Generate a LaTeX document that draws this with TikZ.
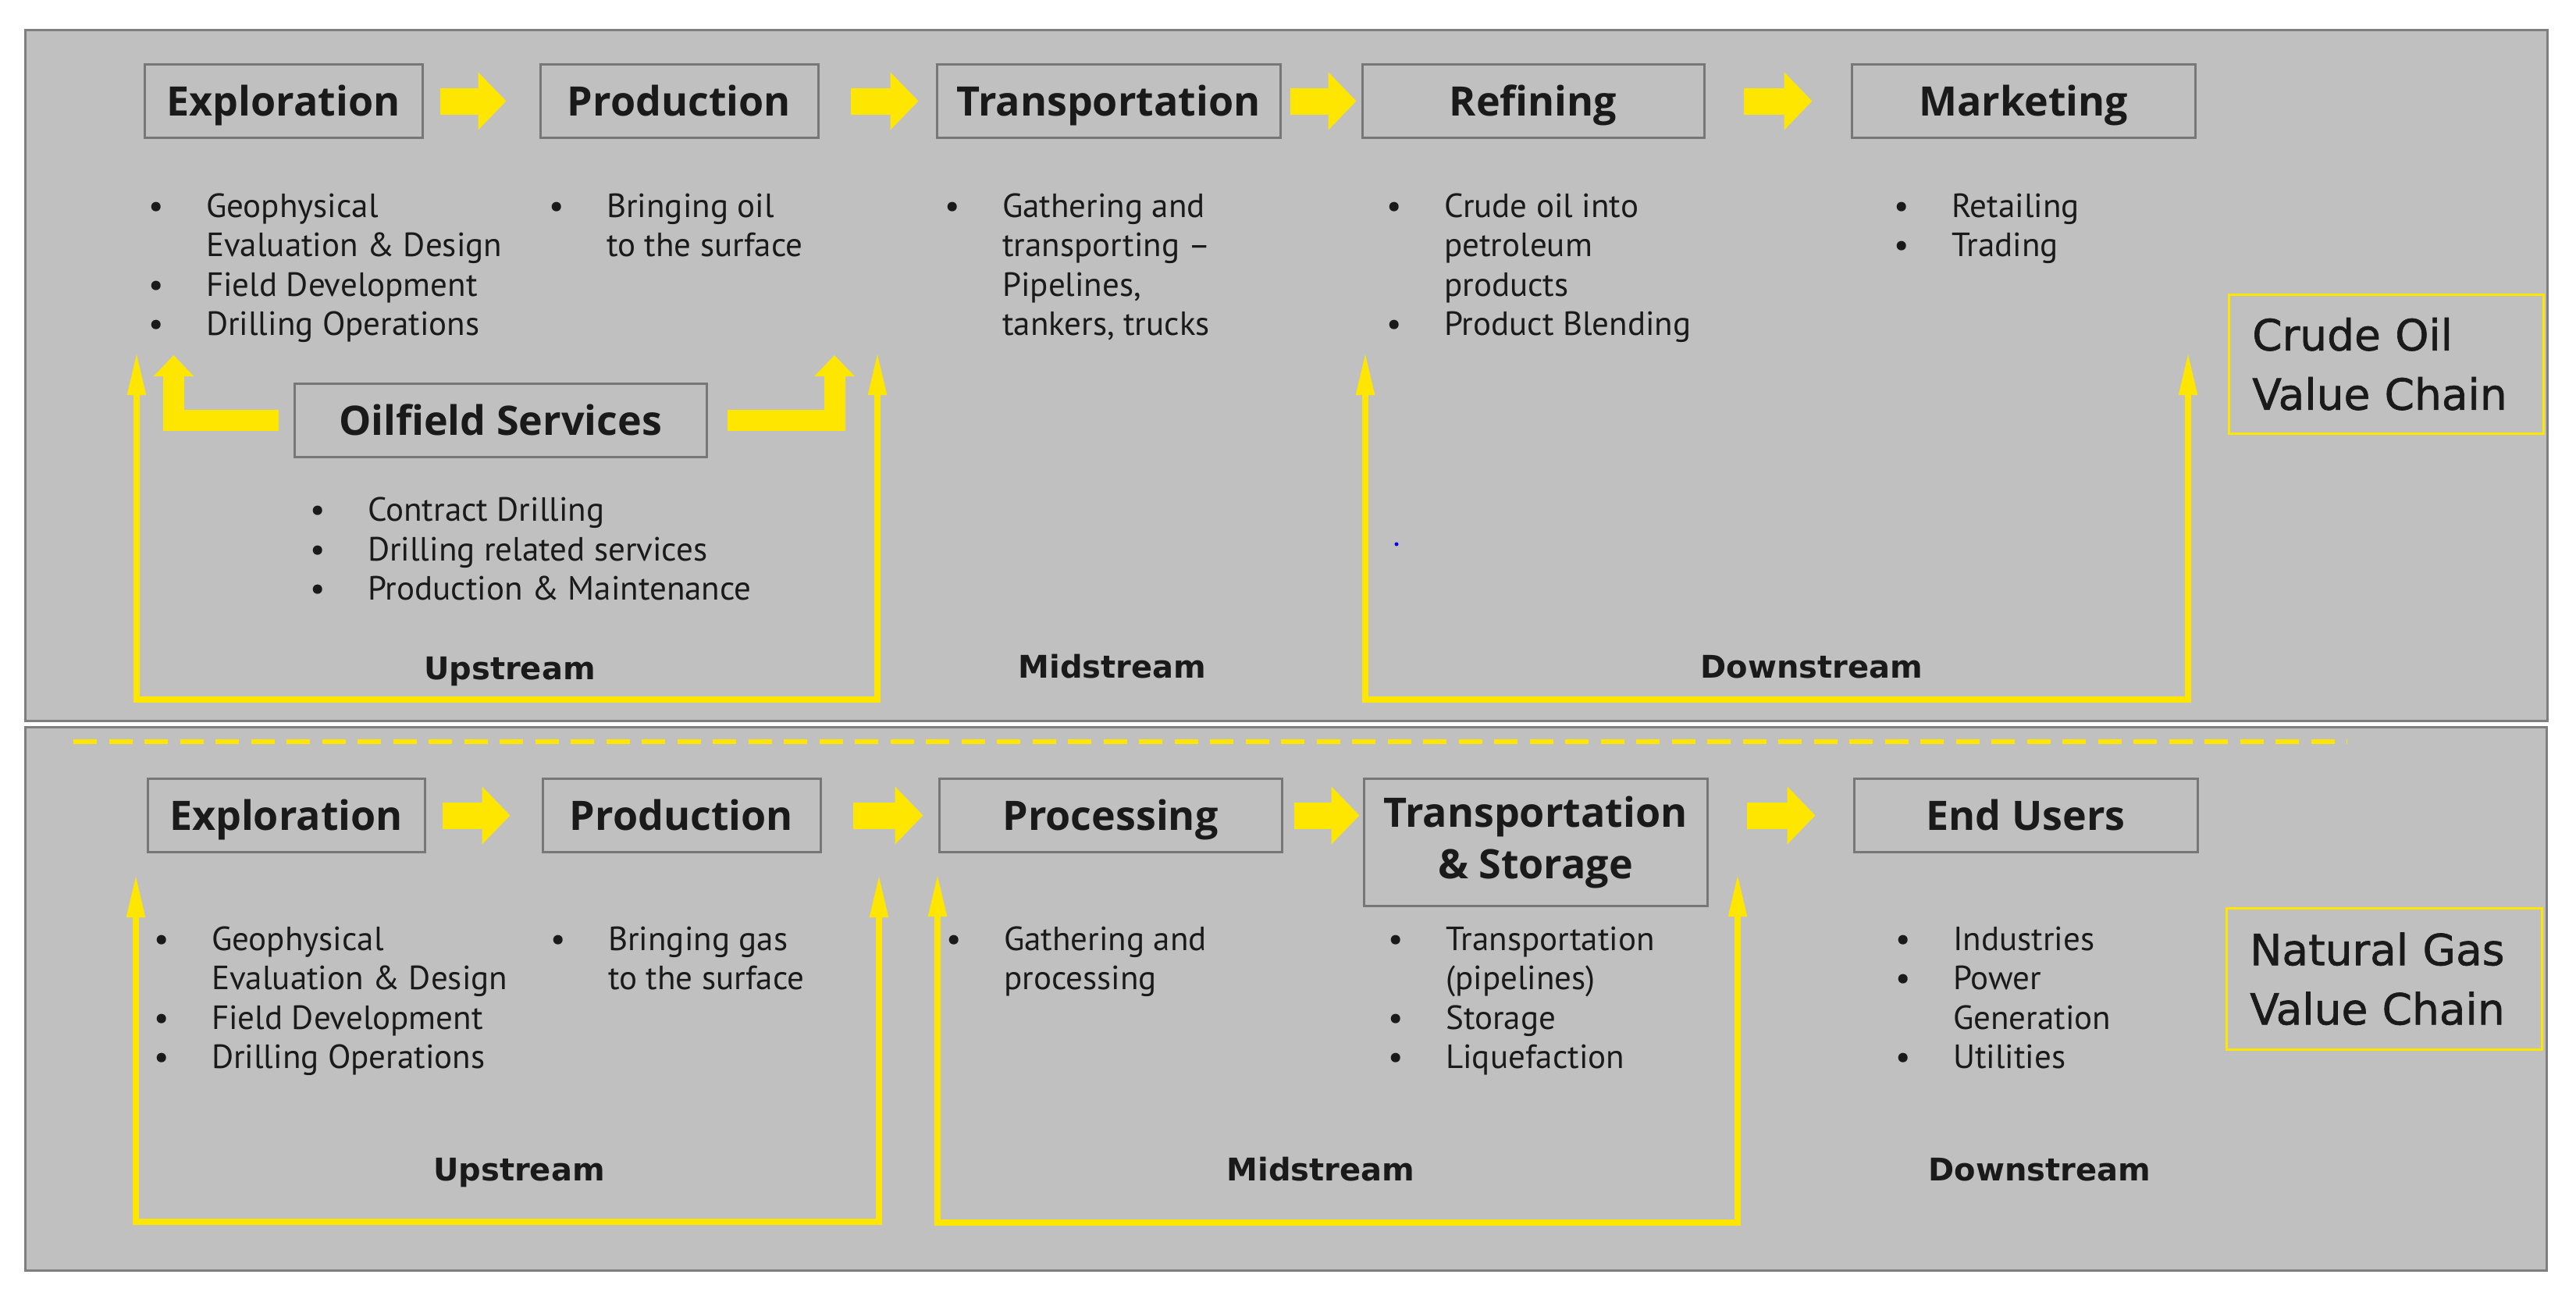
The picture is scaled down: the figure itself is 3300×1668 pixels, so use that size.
\documentclass[tikz,border=0pt]{standalone}
\usepackage{fontspec}
\setmainfont{PT Sans}
\newfontfamily\chainfont{DejaVu Sans}
\newfontfamily\valuefont[FakeBold=1.2]{DejaVu Sans}
\newfontfamily\stagefont{Open Sans}
\usetikzlibrary{arrows.meta}
\definecolor{Panel}{HTML}{C0C0C0}
\definecolor{Frame}{HTML}{7F7F7F}
\definecolor{BoxLine}{HTML}{777777}
\definecolor{EYellow}{HTML}{FFE600}
\definecolor{Ink}{HTML}{1A1A1A}
\newcommand{\titlefont}{\stagefont\fontsize{52}{66}\selectfont\bfseries}
\newcommand{\listfont}{\fontsize{43}{50.5}\selectfont}
\newcommand{\bulletlist}[1]{\begin{tabular}[t]{@{}p{74pt}@{}l@{}}#1\end{tabular}}

\begin{document}
\begin{tikzpicture}[x=1pt,y=-1pt,every node/.style={text=Ink},
  stagebase/.style={draw=BoxLine,line width=3pt,fill=Panel,inner sep=0pt,font=\titlefont},
  stagebox/.style={stagebase,minimum height=94pt,text height=37pt,text depth=0pt},
  itemtext/.style={anchor=base west,inner sep=0pt,font=\listfont},
  streamlabel/.style={anchor=base,inner sep=0pt,font=\chainfont\fontsize{40}{48}\selectfont\bfseries},
  chainbox/.style={draw=EYellow,line width=2.5pt,anchor=north west,inner xsep=30pt,inner ysep=0pt,align=left,font=\valuefont\fontsize{55}{76}\selectfont},
  flow/.style={draw=EYellow,line width=34pt,-{Triangle[length=36pt,width=72pt]}},
  feed/.style={draw=EYellow,line width=27pt,-{Triangle[length=27pt,width=50pt]}},
  span/.style={draw=EYellow,line width=8pt,{Triangle[length=55pt,width=22pt]}-{Triangle[length=55pt,width=22pt]}}]
\fill[white] (0,0) rectangle (3300,1668);
\draw[Frame,line width=3pt,fill=Panel] (32,38) rectangle (3263,923);
\draw[Frame,line width=3pt,fill=Panel] (32,931) rectangle (3262,1627);

% crude oil chain
\node[stagebox,minimum width=356pt] (oilexpl) at (363,129.5) {Exploration};
\node[stagebox,minimum width=356pt] (oilprod) at (870,129.5) {Production};
\node[stagebox,minimum width=440pt] (oiltrans) at (1420,129.5) {Transportation};
\node[stagebox,minimum width=438pt] (oilref) at (1964,129.5) {Refining};
\node[stagebox,minimum width=440pt] (oilmkt) at (2592,129.5) {Marketing};
\draw[flow,shorten <=21pt,shorten >=42pt] (oilexpl) -- (oilprod);
\draw[flow,shorten <=40pt,shorten >=22pt] (oilprod) -- (oiltrans);
\draw[flow,shorten <=11pt,shorten >=6pt] (oiltrans) -- (oilref);
\draw[flow,shorten <=49pt,shorten >=49pt] (oilref) -- (oilmkt);

\node[itemtext] (oilexplitems) at (190,278) {\bulletlist{\textbullet & Geophysical\\ & Evaluation \& Design\\ \textbullet & Field Development\\ \textbullet & Drilling Operations}};
\node[itemtext] (oilproditems) at (703,278) {\bulletlist{\textbullet & Bringing oil\\ & to the surface}};
\node[itemtext] (oiltransitems) at (1210,278) {\bulletlist{\textbullet & Gathering and\\ & transporting --\\ & Pipelines,\\ & tankers, trucks}};
\node[itemtext] (oilrefitems) at (1776,278) {\bulletlist{\textbullet & Crude oil into\\ & petroleum\\ & products\\ \textbullet & Product Blending}};
\node[itemtext] (oilmktitems) at (2426,278) {\bulletlist{\textbullet & Retailing\\ \textbullet & Trading}};

\node[stagebox,minimum width=528pt] (ofs) at (641,538.5) {Oilfield Services};
\node[itemtext] (ofsitems) at (397,667.5) {\bulletlist{\textbullet & Contract Drilling\\ \textbullet & Drilling related services\\ \textbullet & Production \& Maintenance}};
\coordinate (feedL) at (222.5,455);
\coordinate (feedR) at (1069,455);
\draw[feed] ([xshift=-19pt]ofs.west) -| (feedL);
\draw[feed] ([xshift=25pt]ofs.east) -| (feedR);

\coordinate (upoilL) at (175,451);
\coordinate (upoilR) at (1124,451);
\draw[span] (upoilL) -- ++(0,445) -| (upoilR);
\coordinate (downoilL) at (1749,451);
\coordinate (downoilR) at (2803,451);
\draw[span] (downoilL) -- ++(0,445) -| (downoilR);
\fill[blue] (1789,697) circle (2.5pt);

\node[streamlabel] (upoil) at (653,870) {Upstream};
\node[streamlabel] (midoil) at (1425,868) {Midstream};
\node[streamlabel] (downoil) at (2321,868) {Downstream};
\node[chainbox,text width=343pt,minimum height=178pt] (crude) at (2854,376) {Crude Oil\\Value Chain};

% natural gas chain
\draw[EYellow,line width=6pt,dash pattern=on 30pt off 15.5pt] (94,950) -- (3007,950);
\node[stagebox,minimum width=355pt] (gasexpl) at (366.5,1044.5) {Exploration};
\node[stagebox,minimum width=356pt] (gasprod) at (873,1044.5) {Production};
\node[stagebox,minimum width=439pt] (gasproc) at (1422.5,1044.5) {Processing};
\node[stagebase,minimum width=440pt,minimum height=163pt,align=center] (gasts) at (1967,1078.5) {Transportation\\\& Storage};
\node[stagebox,minimum width=440pt] (gasend) at (2595,1044.5) {End Users};
\draw[flow,shorten <=21pt,shorten >=40pt] (gasexpl) -- (gasprod);
\draw[flow,shorten <=40pt,shorten >=19pt] (gasprod) -- (gasproc);
\draw[flow,shorten <=14pt,shorten >=4pt] (gasproc.east) -- (gasproc.east -| gasts.west);
\draw[flow,shorten <=49pt,shorten >=48pt] (gasend.west -| gasts.east) -- (gasend.west);

\node[itemtext] (gasexplitems) at (197,1217) {\bulletlist{\textbullet & Geophysical\\ & Evaluation \& Design\\ \textbullet & Field Development\\ \textbullet & Drilling Operations}};
\node[itemtext] (gasproditems) at (705,1217) {\bulletlist{\textbullet & Bringing gas\\ & to the surface}};
\node[itemtext] (gasprocitems) at (1212,1217) {\bulletlist{\textbullet & Gathering and\\ & processing}};
\node[itemtext] (gastsitems) at (1778,1217) {\bulletlist{\textbullet & Transportation\\ & (pipelines)\\ \textbullet & Storage\\ \textbullet & Liquefaction}};
\node[itemtext] (gasenditems) at (2428,1217) {\bulletlist{\textbullet & Industries\\ \textbullet & Power\\ & Generation\\ \textbullet & Utilities}};

\coordinate (upgasL) at (174,1120);
\coordinate (upgasR) at (1126,1120);
\draw[span] (upgasL) -- ++(0,445) -| (upgasR);
\coordinate (midgasL) at (1201,1119);
\coordinate (midgasR) at (2226,1119);
\draw[span] (midgasL) -- ++(0,447) -| (midgasR);

\node[streamlabel] (upgas) at (665,1512) {Upstream};
\node[streamlabel] (midgas) at (1692,1512) {Midstream};
\node[streamlabel] (downgas) at (2613,1512) {Downstream};
\node[chainbox,text width=344pt,minimum height=181pt] (natgas) at (2851,1162) {Natural Gas\\Value Chain};
\end{tikzpicture}
\end{document}
